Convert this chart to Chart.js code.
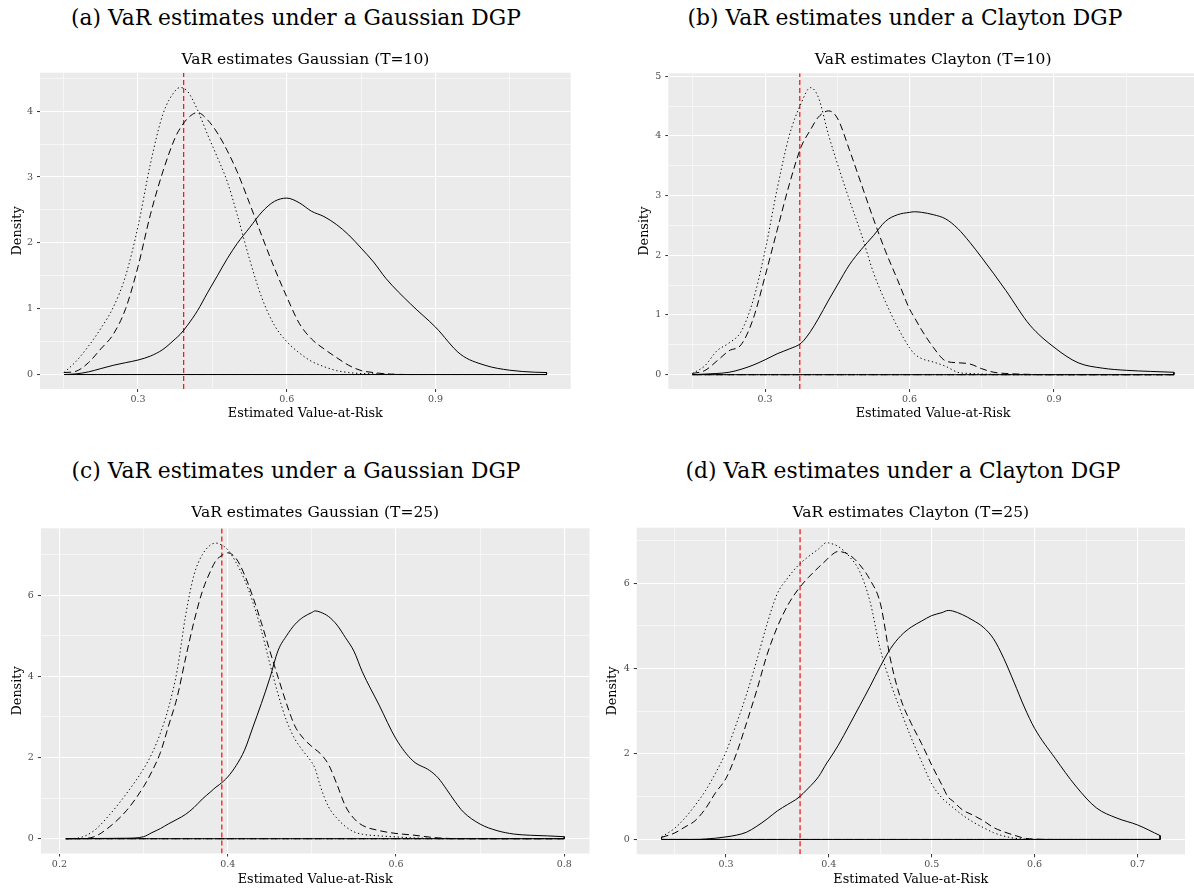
<!DOCTYPE html>
<html><head><meta charset="utf-8">
<script src="https://cdn.jsdelivr.net/npm/chart.js@4.4.1/dist/chart.umd.min.js"></script>
<style>
html,body{margin:0;padding:0;background:#fff;overflow:hidden;width:1194px;height:891px;position:relative;}
canvas{position:absolute;}
.cap{position:absolute;font-family:"DejaVu Serif";font-size:21.8px;color:#000;white-space:nowrap;transform:translate(-50%,-50%);line-height:1;}
</style></head><body>
<div class="cap" id="capA" style="left:296px;top:18px">(a) VaR estimates under a Gaussian DGP</div>
<div class="cap" id="capB" style="left:905px;top:18px">(b) VaR estimates under a Clayton DGP</div>
<div class="cap" id="capC" style="left:296px;top:471px">(c) VaR estimates under a Gaussian DGP</div>
<div class="cap" id="capD" style="left:903px;top:471px">(d) VaR estimates under a Clayton DGP</div>
<canvas id="ca"></canvas><canvas id="cb"></canvas><canvas id="cc"></canvas><canvas id="cd"></canvas>
<script>
// ---------- Panel (a): Gaussian, T=10 ----------
const aTitle = 'VaR estimates Gaussian (T=10)';
const aX = [0.151,0.175,0.2,0.225,0.25,0.275,0.3,0.325,0.35,0.375,0.385,0.4,0.42,0.44,0.46,0.48,0.5,0.525,0.55,0.575,0.6,0.625,0.65,0.675,0.7,0.725,0.75,0.775,0.8,0.85,0.9,0.95,1.0,1.05,1.1,1.124];
const aSolid = [0,0.01,0.04,0.09,0.14,0.18,0.22,0.28,0.38,0.54,0.61,0.75,0.97,1.24,1.5,1.76,1.99,2.23,2.47,2.63,2.68,2.61,2.48,2.4,2.28,2.12,1.92,1.71,1.46,1.07,0.72,0.31,0.14,0.065,0.035,0.03];
const aDashed = [0.03,0.05,0.18,0.39,0.61,1.0,1.64,2.43,3.08,3.6,3.74,3.89,3.98,3.87,3.67,3.4,3.08,2.6,2.1,1.62,1.18,0.78,0.54,0.39,0.26,0.14,0.06,0.03,0.01,0,0,0,0,0,0,0];
const aDotted = [0.03,0.2,0.43,0.7,1.02,1.5,2.25,3.2,3.95,4.31,4.36,4.3,4.02,3.65,3.3,2.93,2.43,1.75,1.16,0.75,0.5,0.33,0.2,0.12,0.06,0.03,0.015,0.01,0.005,0,0,0,0,0,0,0];
const aTrueVaR = 0.392;
const aXRange = [0.1023, 1.1727];
const aYRange = [-0.22, 4.585];
const aXMajor = [0.3, 0.6, 0.9];
const aXLabels = ['0.3', '0.6', '0.9'];
const aXMinor = [0.15, 0.45, 0.75, 1.05];
const aYMajor = [0, 1, 2, 3, 4];
const aYLabels = ['0', '1', '2', '3', '4'];
const aYMinor = [0.5, 1.5, 2.5, 3.5, 4.5];

// ---------- Panel (b): Clayton, T=10 ----------
const bTitle = 'VaR estimates Clayton (T=10)';
const bX = [0.149,0.175,0.2,0.225,0.25,0.275,0.3,0.325,0.35,0.375,0.394,0.41,0.432,0.45,0.475,0.5,0.525,0.55,0.575,0.6,0.61,0.625,0.65,0.675,0.7,0.725,0.75,0.775,0.8,0.85,0.9,0.95,1.0,1.05,1.1,1.149];
const bSolid = [0,0.01,0.02,0.04,0.09,0.16,0.25,0.35,0.43,0.53,0.72,0.93,1.25,1.5,1.84,2.1,2.33,2.57,2.68,2.72,2.73,2.72,2.68,2.61,2.45,2.22,1.96,1.69,1.41,0.83,0.46,0.2,0.11,0.073,0.055,0.04];
const bDashed = [0.02,0.07,0.23,0.4,0.5,0.93,1.65,2.42,3.18,3.82,4.1,4.31,4.42,4.3,3.77,3.19,2.61,2.07,1.59,1.1,0.96,0.75,0.45,0.23,0.2,0.18,0.1,0.04,0.02,0.005,0,0,0,0,0,0];
const bDotted = [0.02,0.15,0.4,0.53,0.72,1.24,2.08,3.11,4.0,4.55,4.81,4.66,4.01,3.54,2.93,2.35,1.71,1.22,0.8,0.45,0.35,0.27,0.21,0.14,0.04,0.02,0.01,0.005,0,0,0,0,0,0,0,0];
const bTrueVaR = 0.372;
const bXRange = [0.099, 1.199];
const bYRange = [-0.24, 5.05];
const bXMajor = [0.3, 0.6, 0.9];
const bXLabels = ['0.3', '0.6', '0.9'];
const bXMinor = [0.15, 0.45, 0.75, 1.05];
const bYMajor = [0, 1, 2, 3, 4, 5];
const bYLabels = ['0', '1', '2', '3', '4', '5'];
const bYMinor = [0.5, 1.5, 2.5, 3.5, 4.5];

// ---------- Panel (c): Gaussian, T=25 ----------
const cTitle = 'VaR estimates Gaussian (T=25)';
const cX = [0.2076,0.22,0.24,0.26,0.28,0.30,0.31,0.32,0.33,0.34,0.35,0.36,0.37,0.38,0.386,0.39,0.40,0.41,0.42,0.43,0.44,0.45,0.46,0.47,0.48,0.49,0.50,0.504,0.51,0.52,0.53,0.54,0.55,0.56,0.58,0.60,0.62,0.64,0.65,0.66,0.67,0.68,0.70,0.72,0.74,0.76,0.78,0.80];
const cSolid = [0,0.003,0.005,0.008,0.012,0.05,0.15,0.25,0.37,0.48,0.6,0.77,0.98,1.16,1.27,1.33,1.52,1.8,2.18,2.75,3.33,3.95,4.64,5.0,5.28,5.46,5.57,5.61,5.58,5.47,5.26,4.95,4.62,4.11,3.29,2.46,1.92,1.68,1.5,1.22,0.92,0.66,0.36,0.2,0.115,0.085,0.07,0.05];
const cDashed = [0,0,0.04,0.3,0.7,1.28,1.66,2.12,2.8,3.49,4.45,5.35,6.1,6.61,6.85,6.93,7.04,6.9,6.5,5.95,5.32,4.63,3.97,3.32,2.77,2.47,2.27,2.2,2.1,1.82,1.33,0.8,0.5,0.33,0.2,0.13,0.09,0.04,0.02,0.01,0,0,0,0,0,0,0,0];
const cDotted = [0,0.01,0.18,0.6,1.12,1.72,2.1,2.6,3.25,4.15,5.5,6.5,7.0,7.24,7.28,7.26,7.12,6.8,6.38,5.82,5.13,4.32,3.55,2.9,2.45,2.15,1.88,1.72,1.3,0.78,0.5,0.3,0.17,0.11,0.07,0.045,0.02,0.01,0,0,0,0,0,0,0,0,0,0];
const cTrueVaR = 0.393;
const cXRange = [0.178, 0.830];
const cYRange = [-0.364, 7.644];
const cXMajor = [0.2, 0.4, 0.6, 0.8];
const cXLabels = ['0.2', '0.4', '0.6', '0.8'];
const cXMinor = [0.3, 0.5, 0.7];
const cYMajor = [0, 2, 4, 6];
const cYLabels = ['0', '2', '4', '6'];
const cYMinor = [1, 3, 5, 7];

// ---------- Panel (d): Clayton, T=25 ----------
const dTitle = 'VaR estimates Clayton (T=25)';
const dX = [0.2374,0.25,0.26,0.27,0.28,0.29,0.30,0.31,0.32,0.33,0.34,0.35,0.36,0.37,0.38,0.39,0.398,0.40,0.409,0.42,0.43,0.44,0.45,0.46,0.47,0.48,0.49,0.50,0.51,0.516,0.52,0.53,0.54,0.55,0.56,0.57,0.58,0.59,0.60,0.62,0.64,0.66,0.68,0.70,0.722];
const dSolid = [0,0,0,0,0.01,0.03,0.06,0.1,0.17,0.31,0.48,0.67,0.82,0.97,1.2,1.47,1.79,1.86,2.2,2.68,3.13,3.58,4.05,4.47,4.77,4.97,5.11,5.24,5.31,5.36,5.35,5.26,5.13,4.97,4.7,4.24,3.68,3.1,2.6,1.9,1.25,0.74,0.5,0.34,0.09];
const dDashed = [0.05,0.15,0.29,0.44,0.72,1.1,1.43,2.0,2.73,3.5,4.33,4.98,5.48,5.85,6.13,6.37,6.55,6.6,6.74,6.66,6.43,6.08,5.53,4.2,3.28,2.72,2.25,1.74,1.27,0.99,0.91,0.69,0.57,0.44,0.28,0.18,0.1,0.03,0.01,0,0,0,0,0,0];
const dDotted = [0.06,0.26,0.5,0.8,1.14,1.56,2.05,2.7,3.4,4.2,5.05,5.76,6.12,6.41,6.62,6.8,6.95,6.94,6.86,6.62,6.27,5.57,4.45,3.66,3.0,2.38,1.83,1.3,0.97,0.84,0.76,0.57,0.41,0.28,0.16,0.08,0.03,0.01,0,0,0,0,0,0,0];
const dTrueVaR = 0.372;
const dXRange = [0.2132, 0.7462];
const dYRange = [-0.3475, 7.2975];
const dXMajor = [0.3, 0.4, 0.5, 0.6, 0.7];
const dXLabels = ['0.3', '0.4', '0.5', '0.6', '0.7'];
const dXMinor = [0.25, 0.35, 0.45, 0.55, 0.65];
const dYMajor = [0, 2, 4, 6];
const dYLabels = ['0', '2', '4', '6'];
const dYMinor = [1, 3, 5, 7];

const xAxisTitle = 'Estimated Value-at-Risk';
const yAxisTitle = 'Density';

// ---------- drawing ----------
const FONT = 'DejaVu Serif';
const FT = 15.5, FA = 12.8, FK = 9.5;

const panelBg = {
  id: 'panelBg',
  beforeDraw(ch) {
    const a = ch.chartArea, ctx = ch.ctx;
    ctx.save();
    ctx.fillStyle = '#EBEBEB';
    ctx.fillRect(a.left, a.top, a.right - a.left, a.bottom - a.top);
    ctx.restore();
  }
};

function buildTicks(maj, min) {
  return maj.map(v => ({value: v, major: true}))
    .concat(min.map(v => ({value: v, major: false})))
    .sort((p, q) => p.value - q.value);
}
function labeller(maj, labs) {
  return v => { const i = maj.findIndex(m => Math.abs(m - v) < 1e-9); return i >= 0 ? labs[i] : ''; };
}

function panel(id, box, plot, pos, s) {
  const cv = document.getElementById(id);
  cv.width = box.w; cv.height = box.h;
  cv.style.width = box.w + 'px'; cv.style.height = box.h + 'px';
  cv.style.left = box.x + 'px'; cv.style.top = box.y + 'px';
  const lhT = FT * 1.2, lhA = FA * 1.2;
  const tPadTop = pos.titleCY - box.y - lhT / 2;
  const tPadBot = plot.T - box.y - tPadTop - lhT;
  const xTitlePadBot = box.y + box.h - pos.xTitleCY - lhA / 2;
  const yTitlePadTop = pos.yTitleCX - box.x - lhA / 2;

  const curve = (ys, dash) => ({
    data: s.x.map((x, i) => ({x: x, y: ys[i]})),
    showLine: true, borderColor: '#000000', backgroundColor: '#000000', borderWidth: 1,
    borderDash: dash, pointRadius: 0, cubicInterpolationMode: 'monotone', fill: false
  });
  const outline = (ys, dash) => {
    const n = s.x.length - 1;
    return {
      data: [{x: s.x[n], y: ys[n]}, {x: s.x[n], y: 0}, {x: s.x[0], y: 0}, {x: s.x[0], y: ys[0]}],
      showLine: true, borderColor: '#000000', borderWidth: 1, borderDash: dash,
      pointRadius: 0, tension: 0, fill: false
    };
  };
  const vline = {
    data: [{x: s.v, y: s.yr[0]}, {x: s.v, y: s.yr[1]}],
    showLine: true, borderColor: 'rgba(255,0,0,0.9)', borderWidth: 1.3, borderDash: [5, 3],
    pointRadius: 0, tension: 0, fill: false
  };
  const gridOpts = {
    color: '#FFFFFF',
    lineWidth: c => (c.tick && c.tick.major) ? 1.1 : 0.55,
    tickLength: 3,
    tickColor: c => (c.tick && c.tick.major) ? '#333333' : 'rgba(0,0,0,0)',
    tickWidth: 1
  };

  new Chart(cv, {
    type: 'scatter',
    data: {
      datasets: [
        curve(s.solid, []), outline(s.solid, []),
        curve(s.dashed, [7, 4]), outline(s.dashed, [7, 4]),
        curve(s.dotted, [1.3, 2.7]), outline(s.dotted, [1.3, 2.7]),
        vline
      ]
    },
    options: {
      responsive: false, animation: false, devicePixelRatio: 1,
      layout: {padding: {left: 0, top: 0, bottom: 0, right: box.x + box.w - plot.R}},
      plugins: {
        legend: {display: false}, tooltip: {enabled: false},
        title: {display: true, text: s.title, fullSize: false, align: 'center', color: '#000000',
          font: {family: FONT, size: FT, weight: 'normal', lineHeight: 1.2},
          padding: {top: tPadTop, bottom: tPadBot}}
      },
      scales: {
        x: {
          type: 'linear', position: 'bottom', min: s.xr[0], max: s.xr[1],
          afterBuildTicks: ax => { ax.ticks = buildTicks(s.xMaj, s.xMin); },
          afterFit: sc => { sc.height = box.y + box.h - plot.B; },
          ticks: {autoSkip: false, maxRotation: 0, minRotation: 0, padding: 2, color: '#4D4D4D',
            font: {family: FONT, size: FK}, callback: labeller(s.xMaj, s.xLab)},
          grid: gridOpts,
          border: {display: false},
          title: {display: true, text: xAxisTitle, color: '#000000',
            font: {family: FONT, size: FA, lineHeight: 1.2}, padding: {top: 0, bottom: xTitlePadBot}}
        },
        y: {
          type: 'linear', position: 'left', min: s.yr[0], max: s.yr[1],
          afterBuildTicks: ax => { ax.ticks = buildTicks(s.yMaj, s.yMin); },
          afterFit: sc => { sc.width = plot.L - box.x; },
          ticks: {autoSkip: false, padding: 4, color: '#4D4D4D',
            font: {family: FONT, size: FK}, callback: labeller(s.yMaj, s.yLab)},
          grid: gridOpts,
          border: {display: false},
          title: {display: true, text: yAxisTitle, color: '#000000',
            font: {family: FONT, size: FA, lineHeight: 1.2}, padding: {top: yTitlePadTop, bottom: 0}}
        }
      }
    },
    plugins: [panelBg]
  });
}

panel('ca', {x: 0, y: 40, w: 597, h: 383}, {L: 40, T: 72.7, R: 570.7, B: 389},
  {titleCY: 60, xTitleCY: 414, yTitleCX: 18},
  {title: aTitle, x: aX, solid: aSolid, dashed: aDashed, dotted: aDotted, v: aTrueVaR,
   xr: aXRange, yr: aYRange, xMaj: aXMajor, xLab: aXLabels, xMin: aXMinor, yMaj: aYMajor, yLab: aYLabels, yMin: aYMinor});
panel('cb', {x: 600, y: 40, w: 610, h: 383}, {L: 668.3, T: 73.3, R: 1198, B: 389},
  {titleCY: 60, xTitleCY: 414, yTitleCX: 645},
  {title: bTitle, x: bX, solid: bSolid, dashed: bDashed, dotted: bDotted, v: bTrueVaR,
   xr: bXRange, yr: bYRange, xMaj: bXMajor, xLab: bXLabels, xMin: bXMinor, yMaj: bYMajor, yLab: bYLabels, yMin: bYMinor});
panel('cc', {x: 0, y: 495, w: 597, h: 392}, {L: 40.9, T: 528.3, R: 589.5, B: 853.5},
  {titleCY: 513.3, xTitleCY: 880, yTitleCX: 18},
  {title: cTitle, x: cX, solid: cSolid, dashed: cDashed, dotted: cDotted, v: cTrueVaR,
   xr: cXRange, yr: cYRange, xMaj: cXMajor, xLab: cXLabels, xMin: cXMinor, yMaj: cYMajor, yLab: cYLabels, yMin: cYMinor});
panel('cd', {x: 600, y: 495, w: 594, h: 392}, {L: 636.7, T: 527.7, R: 1185, B: 854.3},
  {titleCY: 513.3, xTitleCY: 880, yTitleCX: 613},
  {title: dTitle, x: dX, solid: dSolid, dashed: dDashed, dotted: dDotted, v: dTrueVaR,
   xr: dXRange, yr: dYRange, xMaj: dXMajor, xLab: dXLabels, xMin: dXMinor, yMaj: dYMajor, yLab: dYLabels, yMin: dYMinor});
</script>
</body></html>
